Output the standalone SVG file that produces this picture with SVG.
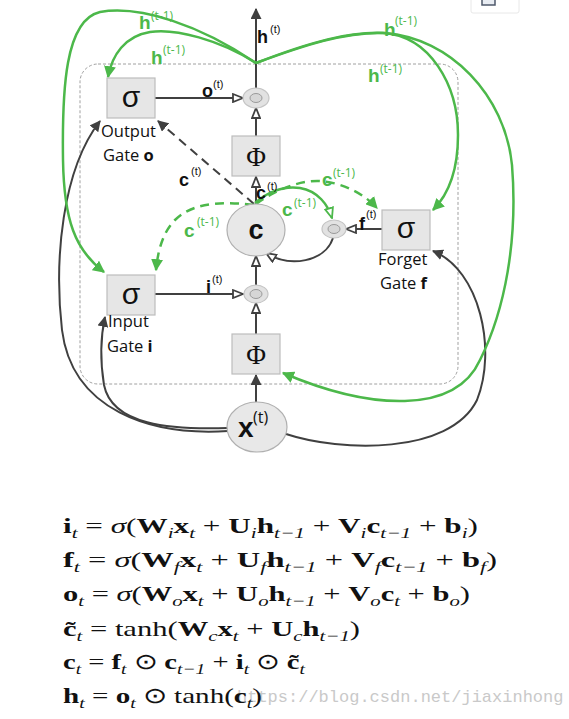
<svg xmlns="http://www.w3.org/2000/svg" width="569" height="719" viewBox="0 0 569 719">
<style>
.dk{fill:none;stroke:#404040;stroke-width:2}
.gr{fill:none;stroke:#4cb84a;stroke-width:2.5}
.dash{stroke-dasharray:9,6}
.box{fill:#e6e6e6;stroke:#bdbdbd;stroke-width:1.2}
.ell{fill:#e8e8e8;stroke:#b0b0b0;stroke-width:1.2}
.mo{fill:#e2e2e2;stroke:#c4c4c4;stroke-width:1.2}
.mi{fill:#d6d6d6;stroke:#9a9a9a;stroke-width:1}
.sig{font-family:"Liberation Sans",Arial,sans-serif;font-size:30px;fill:#111;text-anchor:middle}
.phi{font-family:"Liberation Serif","Times New Roman",serif;font-size:27px;fill:#111;text-anchor:middle}
.lab{font-family:"Open Sans","Liberation Sans",sans-serif;font-size:16.5px;fill:#111}
.lb{font-family:"Liberation Sans",Arial,sans-serif;font-weight:bold;font-size:18px;fill:#111}
.sup{font-family:"Liberation Sans",Arial,sans-serif;font-size:11px;fill:#111}
.glb{font-family:"Liberation Sans",Arial,sans-serif;font-weight:bold;font-size:19px;fill:#4cb84a}
.gsup{font-family:"Open Sans","Liberation Sans",sans-serif;font-size:12px;fill:#4cb84a}
.eq{font-family:"Liberation Serif","Times New Roman",serif;font-size:22px;fill:#111}
.b{font-weight:bold}
.s{font-size:15px;font-style:italic}
.wm{font-family:"Liberation Mono","Courier New",monospace;font-size:17px;fill:#c9c9c9}
</style>
<defs>
<marker id="aDark" viewBox="0 0 10 10" refX="9" refY="5" markerWidth="11" markerHeight="11" markerUnits="userSpaceOnUse" orient="auto"><path d="M0,0 L10,5 L0,10 z" fill="#404040"/></marker>
<marker id="aOpen" viewBox="0 0 12 10" refX="11" refY="5" markerWidth="12" markerHeight="10" markerUnits="userSpaceOnUse" orient="auto"><path d="M1,1 L11,5 L1,9 z" fill="#fff" stroke="#404040" stroke-width="1.8"/></marker>
<marker id="aGreen" viewBox="0 0 10 10" refX="9" refY="5" markerWidth="12" markerHeight="12" markerUnits="userSpaceOnUse" orient="auto"><path d="M0,0 L10,5 L0,10 z" fill="#4cb84a"/></marker>
<marker id="aGreenOpen" viewBox="0 0 12 10" refX="11" refY="5" markerWidth="12" markerHeight="10" markerUnits="userSpaceOnUse" orient="auto"><path d="M1,1 L11,5 L1,9 z" fill="#fff" stroke="#4cb84a" stroke-width="1.8"/></marker>
</defs>
<rect width="569" height="719" fill="#fff"/>
<g id="uibox">
<rect x="471" y="-4" width="48" height="17" rx="2" fill="#fff" stroke="#e8e8e8"/>
<rect x="482" y="-3" width="13" height="8" fill="#e8ecf2" stroke="#4f596b" stroke-width="1.5"/>
</g>
<rect id="cell" x="80" y="64" width="378" height="320" rx="18" fill="none" stroke="#a0a0a0" stroke-width="1" stroke-dasharray="3,2"/>

<g id="connectors">
<line class="dk" x1="256" y1="89" x2="256" y2="9" marker-end="url(#aDark)"/>
<line class="dk" x1="155" y1="98" x2="243" y2="98" marker-end="url(#aOpen)"/>
<line class="dk" x1="256" y1="136" x2="256" y2="108" marker-end="url(#aOpen)"/>
<line class="dk" x1="256" y1="205" x2="256" y2="177" marker-end="url(#aOpen)"/>
<line class="dk" x1="155" y1="294" x2="243" y2="294" marker-end="url(#aOpen)"/>
<line class="dk" x1="256" y1="334" x2="256" y2="303" marker-end="url(#aOpen)"/>
<line class="dk" x1="256" y1="285" x2="256" y2="256" marker-end="url(#aOpen)"/>
<line class="dk" x1="382" y1="229" x2="346" y2="229" marker-end="url(#aOpen)"/>
<line class="dk" x1="256" y1="405" x2="256" y2="375" marker-end="url(#aDark)"/>
<path class="dk" d="M333,238 C 325,262 290,268 266,253" marker-end="url(#aOpen)"/>
<path class="dk dash" d="M254,204 L158,121" marker-end="url(#aDark)"/>
<path class="dk" d="M228,428 C 170,430 112,425 104,385 C 100,360 101,335 105,317" marker-end="url(#aDark)"/>
<path class="dk" d="M228,431 C 150,436 72,410 62,330 C 54,260 62,170 100,121" marker-end="url(#aDark)"/>
<path class="dk" d="M286,434 C 340,452 450,455 477,400 C 497,350 480,270 433,251" marker-end="url(#aDark)"/>
<path class="gr" d="M256,63 C 220,40 175,28 150,32 C 125,36 112,55 108,77" marker-end="url(#aGreen)"/>
<path class="gr" d="M256,63 C 200,25 140,5 100,12 C 65,20 62,90 63,160 C 64,220 75,250 104,272" marker-end="url(#aGreen)"/>
<path class="gr" d="M256,63 C 305,45 345,32 383,33 C 430,36 458,85 458,135 C 458,170 448,195 433,210" marker-end="url(#aGreen)"/>
<path class="gr" d="M256,63 C 310,42 350,31 385,33 C 450,38 505,95 512,165 C 518,240 505,310 480,360 C 455,415 370,410 283,373" marker-end="url(#aGreen)"/>
<path class="gr dash" d="M254,205 C 215,200 190,205 175,220 C 163,232 158,250 156,270" marker-end="url(#aGreen)"/>
<path class="gr dash" d="M256,204 C 275,190 300,180 320,181 C 345,183 365,195 377,208" marker-end="url(#aGreen)"/>
<path class="gr" d="M255,203 C 270,190 285,186 300,188 C 318,191 328,205 332,218" marker-end="url(#aGreenOpen)"/>
</g>

<g id="output-gate">
<rect class="box" x="107" y="78" width="48" height="40"/>
<text class="sig" x="131" y="107">σ</text>
<text class="lab" x="101" y="137">Output</text>
<text class="lab" x="103" y="161">Gate <tspan font-weight="bold">o</tspan></text>
</g>
<g id="output-mult">
<ellipse class="mo" cx="256" cy="98" rx="13" ry="10"/>
<ellipse class="mi" cx="256" cy="98" rx="6" ry="4.5"/>
</g>
<g id="phi-top">
<rect class="box" x="232" y="136" width="48" height="40"/>
<text class="phi" x="256" y="166">Φ</text>
</g>
<g id="cell-c">
<ellipse class="ell" cx="256" cy="230" rx="29" ry="26"/>
<text x="256" y="239" text-anchor="middle" font-family="Liberation Sans,Arial,sans-serif" font-weight="bold" font-size="27" fill="#111">c</text>
</g>
<g id="forget-mult">
<ellipse class="mo" cx="334" cy="229" rx="12" ry="9"/>
<ellipse class="mi" cx="334" cy="229" rx="6" ry="4.5"/>
</g>
<g id="forget-gate">
<rect class="box" x="382" y="210" width="48" height="40"/>
<text class="sig" x="406" y="238">σ</text>
<text class="lab" x="378" y="265">Forget</text>
<text class="lab" x="380" y="289">Gate <tspan font-weight="bold">f</tspan></text>
</g>
<g id="input-gate">
<rect class="box" x="107" y="275" width="48" height="40"/>
<text class="sig" x="131" y="304">σ</text>
<text class="lab" x="108" y="327">Input</text>
<text class="lab" x="107" y="352">Gate <tspan font-weight="bold">i</tspan></text>
</g>
<g id="input-mult">
<ellipse class="mo" cx="256" cy="294" rx="12" ry="9"/>
<ellipse class="mi" cx="256" cy="294" rx="6" ry="4.5"/>
</g>
<g id="phi-bottom">
<rect class="box" x="232" y="334" width="48" height="40"/>
<text class="phi" x="256" y="364">Φ</text>
</g>
<g id="input-x">
<ellipse class="ell" cx="257" cy="427" rx="30" ry="25"/>
<text x="238" y="437" font-family="Liberation Sans,Arial,sans-serif" font-weight="bold" font-size="28" fill="#111">x</text>
<text x="253" y="423" font-family="Open Sans,Liberation Sans,sans-serif" font-size="16" fill="#111">(t)</text>
</g>

<g id="labels">
<text class="lb" x="257" y="43">h</text><text class="sup" x="270" y="33">(t)</text>
<text class="lb" x="202" y="97">o</text><text class="sup" x="213" y="88">(t)</text>
<text class="lb" x="179" y="186">c</text><text class="sup" x="191" y="175">(t)</text>
<text class="lb" x="256" y="199">c</text><text class="sup" x="267" y="190">(t)</text>
<text class="lb" x="359" y="230">f</text><text class="sup" x="366" y="218">(t)</text>
<text class="lb" x="206" y="293">i</text><text class="sup" x="212" y="283">(t)</text>
<text class="glb" x="139" y="29">h</text><text class="gsup" x="151" y="20">(t-1)</text>
<text class="glb" x="151" y="64">h</text><text class="gsup" x="163" y="54">(t-1)</text>
<text class="glb" x="384" y="36">h</text><text class="gsup" x="395" y="25">(t-1)</text>
<text class="glb" x="368" y="82">h</text><text class="gsup" x="380" y="73">(t-1)</text>
<text class="glb" x="184" y="237">c</text><text class="gsup" x="197" y="226">(t-1)</text>
<text class="glb" x="322" y="186">c</text><text class="gsup" x="333" y="177">(t-1)</text>
<text class="glb" x="282" y="216">c</text><text class="gsup" x="294" y="207">(t-1)</text>
</g>

<g id="equations">
<text class="eq" x="63" y="533" textLength="415" lengthAdjust="spacingAndGlyphs"><tspan class="b">i</tspan><tspan class="s" dy="5">t</tspan><tspan dy="-5"> = </tspan><tspan font-style="italic">σ</tspan>(<tspan class="b">W</tspan><tspan class="s" dy="5">i</tspan><tspan class="b" dy="-5">x</tspan><tspan class="s" dy="5">t</tspan><tspan dy="-5"> + </tspan><tspan class="b">U</tspan><tspan class="s" dy="5">i</tspan><tspan class="b" dy="-5">h</tspan><tspan class="s" dy="5">t−1</tspan><tspan dy="-5"> + </tspan><tspan class="b">V</tspan><tspan class="s" dy="5">i</tspan><tspan class="b" dy="-5">c</tspan><tspan class="s" dy="5">t−1</tspan><tspan dy="-5"> + </tspan><tspan class="b">b</tspan><tspan class="s" dy="5">i</tspan><tspan dy="-5">)</tspan></text>
<text class="eq" x="63" y="567" textLength="434" lengthAdjust="spacingAndGlyphs"><tspan class="b">f</tspan><tspan class="s" dy="5">t</tspan><tspan dy="-5"> = </tspan><tspan font-style="italic">σ</tspan>(<tspan class="b">W</tspan><tspan class="s" dy="5">f</tspan><tspan class="b" dy="-5">x</tspan><tspan class="s" dy="5">t</tspan><tspan dy="-5"> + </tspan><tspan class="b">U</tspan><tspan class="s" dy="5">f</tspan><tspan class="b" dy="-5">h</tspan><tspan class="s" dy="5">t−1</tspan><tspan dy="-5"> + </tspan><tspan class="b">V</tspan><tspan class="s" dy="5">f</tspan><tspan class="b" dy="-5">c</tspan><tspan class="s" dy="5">t−1</tspan><tspan dy="-5"> + </tspan><tspan class="b">b</tspan><tspan class="s" dy="5">f</tspan><tspan dy="-5">)</tspan></text>
<text class="eq" x="63" y="601" textLength="407" lengthAdjust="spacingAndGlyphs"><tspan class="b">o</tspan><tspan class="s" dy="5">t</tspan><tspan dy="-5"> = </tspan><tspan font-style="italic">σ</tspan>(<tspan class="b">W</tspan><tspan class="s" dy="5">o</tspan><tspan class="b" dy="-5">x</tspan><tspan class="s" dy="5">t</tspan><tspan dy="-5"> + </tspan><tspan class="b">U</tspan><tspan class="s" dy="5">o</tspan><tspan class="b" dy="-5">h</tspan><tspan class="s" dy="5">t−1</tspan><tspan dy="-5"> + </tspan><tspan class="b">V</tspan><tspan class="s" dy="5">o</tspan><tspan class="b" dy="-5">c</tspan><tspan class="s" dy="5">t</tspan><tspan dy="-5"> + </tspan><tspan class="b">b</tspan><tspan class="s" dy="5">o</tspan><tspan dy="-5">)</tspan></text>
<text class="eq" x="63" y="636" textLength="297" lengthAdjust="spacingAndGlyphs"><tspan class="b">c̃</tspan><tspan class="s" dy="5">t</tspan><tspan dy="-5"> = tanh(</tspan><tspan class="b">W</tspan><tspan class="s" dy="5">c</tspan><tspan class="b" dy="-5">x</tspan><tspan class="s" dy="5">t</tspan><tspan dy="-5"> + </tspan><tspan class="b">U</tspan><tspan class="s" dy="5">c</tspan><tspan class="b" dy="-5">h</tspan><tspan class="s" dy="5">t−1</tspan><tspan dy="-5">)</tspan></text>
<text class="eq" x="63" y="669" textLength="242" lengthAdjust="spacingAndGlyphs"><tspan class="b">c</tspan><tspan class="s" dy="5">t</tspan><tspan dy="-5"> = </tspan><tspan class="b">f</tspan><tspan class="s" dy="5">t</tspan><tspan dy="-5"> ⊙ </tspan><tspan class="b">c</tspan><tspan class="s" dy="5">t−1</tspan><tspan dy="-5"> + </tspan><tspan class="b">i</tspan><tspan class="s" dy="5">t</tspan><tspan dy="-5"> ⊙ </tspan><tspan class="b">c̃</tspan><tspan class="s" dy="5">t</tspan></text>
<text class="wm" x="237" y="702">https://blog.csdn.net/jiaxinhong</text>
<text class="eq" x="63" y="703" textLength="199" lengthAdjust="spacingAndGlyphs"><tspan class="b">h</tspan><tspan class="s" dy="5">t</tspan><tspan dy="-5"> = </tspan><tspan class="b">o</tspan><tspan class="s" dy="5">t</tspan><tspan dy="-5"> ⊙ tanh(</tspan><tspan class="b">c</tspan><tspan class="s" dy="5">t</tspan><tspan dy="-5">)</tspan></text>
</g>
</svg>
